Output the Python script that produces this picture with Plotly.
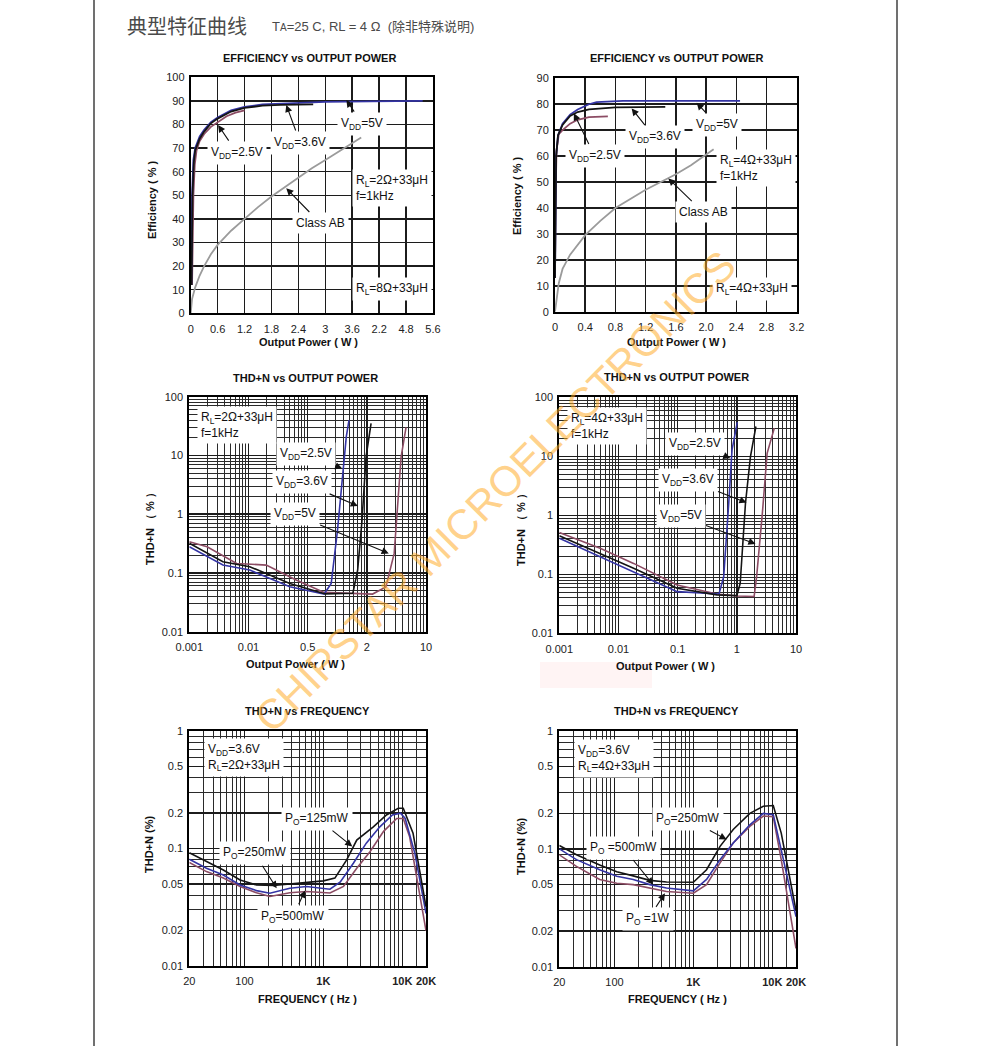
import math
import plotly.graph_objects as go

W, H = 991, 1046
FONT = "Liberation Sans, Arial, Helvetica, sans-serif"
CJK = "Liberation Sans, Noto Sans CJK SC, sans-serif"

BLUE = "#3434a4"
BLACK = "#141414"
BROWN = "#8c4c64"
GRAY = "#9b9b9b"
GRID = "#1c1c1c"

# ---------------- data: efficiency, RL = 2 ohm ----------------
eff2_vdd25_x = [0.03, 0.06, 0.09, 0.13, 0.2, 0.3, 0.45, 0.6, 0.8, 1.0, 1.2]
eff2_vdd25_y = [12, 50, 63, 69, 73, 76, 79, 81, 83.5, 85, 86]
eff2_vdd36_x = [0.02, 0.04, 0.07, 0.1, 0.2, 0.3, 0.45, 0.6, 0.9, 1.2, 1.6, 2.0, 2.73]
eff2_vdd36_y = [12, 50, 64, 69, 74, 77, 80.5, 82.5, 85.5, 87, 88, 88.3, 88.5]
eff2_vdd5_x = [0.015, 0.03, 0.06, 0.1, 0.2, 0.3, 0.45, 0.6, 0.9, 1.2, 1.6, 2.4, 3.0, 4.0, 5.17]
eff2_vdd5_y = [12, 50, 65, 70, 75, 77.8, 81, 83, 86, 87.5, 88.5, 89.3, 89.6, 89.8, 90.0]
eff2_ab_x = [0, 0.03, 0.1, 0.2, 0.3, 0.45, 0.6, 0.9, 1.2, 1.5, 1.8, 2.1, 2.4, 2.7, 3.0, 3.3, 3.6, 3.8]
eff2_ab_y = [0, 6, 11, 16, 20, 25, 29, 35, 40, 45, 49.5, 53.5, 57.5, 61.5, 65, 68.5, 72, 74.5]
eff2_xticks = [0, 0.6, 1.2, 1.8, 2.4, 3.0, 3.6, 4.2, 4.8, 5.4]
eff2_xlabels = ["0", "0.6", "1.2", "1.8", "2.4", "3", "3.6", "2.2", "4.8", "5.6"]
eff2_yticks = [0, 10, 20, 30, 40, 50, 60, 70, 80, 90, 100]

# ---------------- data: efficiency, RL = 4 ohm ----------------
eff4_vdd25_x = [0.0, 0.005, 0.02, 0.05, 0.1, 0.2, 0.3, 0.45, 0.7]
eff4_vdd25_y = [13, 40, 62, 68.5, 70, 72.5, 74, 75, 75.3]
eff4_vdd36_x = [0.0, 0.005, 0.015, 0.04, 0.1, 0.2, 0.3, 0.45, 0.8, 1.46]
eff4_vdd36_y = [13, 40, 60, 68, 72, 75.5, 77, 78, 78.8, 79.0]
eff4_vdd5_x = [0.0, 0.005, 0.015, 0.04, 0.1, 0.2, 0.3, 0.45, 0.55, 0.9, 1.5, 2.45]
eff4_vdd5_y = [13, 40, 60, 68, 72.5, 76, 78, 80, 80.8, 81.3, 81.3, 81.3]
eff4_ab_x = [0, 0.02, 0.05, 0.1, 0.2, 0.4, 0.6, 0.8, 1.0, 1.2, 1.4, 1.6, 1.8, 2.0, 2.1]
eff4_ab_y = [0, 5, 11, 16.5, 22, 29.5, 35, 40, 43.5, 47, 50, 53, 56.5, 60.5, 62.6]
eff4_xticks = [0, 0.4, 0.8, 1.2, 1.6, 2.0, 2.4, 2.8, 3.2]
eff4_xlabels = ["0", "0.4", "0.8", "1.2", "1.6", "2.0", "2.4", "2.8", "3.2"]
eff4_yticks = [0, 10, 20, 30, 40, 50, 60, 70, 80, 90]

# ---------------- data: THD+N vs output power, RL = 2 ohm ----------------
thd2_vdd25_x = [0.001, 0.0037, 0.0105, 0.05, 0.19, 0.25, 0.32, 0.40, 0.45, 0.50]
thd2_vdd25_y = [0.28, 0.137, 0.112, 0.058, 0.0437, 0.066, 0.54, 5.6, 20.9, 40]
thd2_vdd36_x = [0.001, 0.0037, 0.0105, 0.05, 0.2, 0.58, 0.70, 0.83, 0.97, 1.18]
thd2_vdd36_y = [0.32, 0.155, 0.128, 0.066, 0.044, 0.045, 0.112, 0.79, 9.5, 35]
thd2_vdd5_x = [0.001, 0.002, 0.0063, 0.02, 0.064, 0.19, 1.25, 2.1, 2.9, 3.8, 4.6]
thd2_vdd5_y = [0.34, 0.28, 0.145, 0.136, 0.076, 0.0467, 0.0437, 0.058, 0.215, 9.5, 30]
thdp_xticks = [0.001, 0.01, 0.1, 1, 10]
thd2_xlabels = ["0.001", "0.01", "0.5", "2", "10"]
thd4_xlabels = ["0.001", "0.01", "0.1", "1", "10"]
thdp_yticks = [0.01, 0.1, 1, 10, 100]
thdp_ylabels = ["0.01", "0.1", "1", "10", "100"]

# ---------------- data: THD+N vs output power, RL = 4 ohm ----------------
thd4_vdd25_x = [0.001, 0.0049, 0.018, 0.098, 0.5, 0.6, 0.73, 0.83, 1.02]
thd4_vdd25_y = [0.41, 0.2, 0.111, 0.0508, 0.0464, 0.091, 1.6, 12.8, 38]
thd4_vdd36_x = [0.001, 0.0049, 0.018, 0.098, 0.46, 1.0, 1.14, 1.4, 1.7, 2.1]
thd4_vdd36_y = [0.45, 0.227, 0.127, 0.058, 0.0448, 0.0436, 0.07, 1.6, 9.9, 32]
thd4_vdd5_x = [0.001, 0.0049, 0.018, 0.098, 0.46, 1.0, 1.96, 2.16, 2.7, 3.25, 4.3]
thd4_vdd5_y = [0.51, 0.276, 0.153, 0.066, 0.0464, 0.043, 0.042, 0.091, 1.08, 11.2, 30]

# ---------------- data: THD+N vs frequency, RL = 2 ohm ----------------
f2_125_x = [20, 33, 54, 88, 142, 232, 376, 611, 1000, 1400, 1976, 2650, 4300, 6300, 8900, 10300, 13700, 20000]
f2_125_y = [0.092, 0.077, 0.0656, 0.054, 0.0489, 0.0484, 0.05, 0.052, 0.053, 0.056, 0.08, 0.118, 0.153, 0.193, 0.22, 0.22, 0.135, 0.032]
f2_250_x = [20, 33, 54, 88, 142, 210, 376, 611, 1213, 1640, 2400, 3500, 5200, 7500, 9500, 10900, 14500, 20000]
f2_250_y = [0.081, 0.0678, 0.0595, 0.049, 0.0438, 0.0416, 0.0459, 0.0475, 0.045, 0.052, 0.075, 0.111, 0.153, 0.193, 0.2, 0.18, 0.09, 0.028]
f2_500_x = [20, 33, 54, 88, 142, 210, 376, 611, 1213, 1800, 2650, 3900, 5800, 8500, 10300, 12400, 20000]
f2_500_y = [0.076, 0.0636, 0.056, 0.0475, 0.042, 0.039, 0.042, 0.043, 0.0418, 0.0475, 0.068, 0.094, 0.14, 0.18, 0.18, 0.126, 0.02]

# ---------------- data: THD+N vs frequency, RL = 4 ohm ----------------
f4_x = [20, 33, 65, 107, 173, 281, 457, 1000, 1470, 2180, 3200, 5200, 7700, 10300, 13000, 20000]
f4_250_y = [0.107, 0.089, 0.073, 0.064, 0.059, 0.054, 0.0524, 0.052, 0.0665, 0.105, 0.146, 0.2, 0.23, 0.233, 0.136, 0.03]
f4_500_y = [0.1, 0.081, 0.0665, 0.0585, 0.055, 0.0497, 0.0465, 0.044, 0.055, 0.081, 0.112, 0.16, 0.2, 0.195, 0.098, 0.0266]
f4_1w_y = [0.089, 0.071, 0.055, 0.051, 0.0497, 0.0465, 0.0435, 0.042, 0.0497, 0.076, 0.112, 0.155, 0.19, 0.187, 0.081, 0.0143]

fr_xticks = [20, 100, 1000, 10000, 20000]
fr_xlabels = ["20", "100", "<b>1K</b>", "<b>10K</b>", "<b>20K</b>"]
fr_yticks = [0.01, 0.02, 0.05, 0.1, 0.2, 0.5, 1]
fr_ylabels = ["0.01", "0.02", "0.05", "0.1", "0.2", "0.5", "1"]

# ---------------- figure ----------------
fig = go.Figure()


def add(x, y, color, ax, width=1.8):
    fig.add_trace(go.Scatter(
        x=x, y=y, mode="lines", line=dict(color=color, width=width),
        xaxis="x" + ax, yaxis="y" + ax, showlegend=False, hoverinfo="skip"))


add(eff2_ab_x, eff2_ab_y, GRAY, "")
add(eff2_vdd25_x, eff2_vdd25_y, BROWN, "")
add(eff2_vdd5_x, eff2_vdd5_y, BLUE, "")
add(eff2_vdd36_x, eff2_vdd36_y, BLACK, "")

add(eff4_ab_x, eff4_ab_y, GRAY, "2")
add(eff4_vdd25_x, eff4_vdd25_y, BROWN, "2")
add(eff4_vdd5_x, eff4_vdd5_y, BLUE, "2")
add(eff4_vdd36_x, eff4_vdd36_y, BLACK, "2")

add(thd2_vdd5_x, thd2_vdd5_y, BROWN, "3", 1.6)
add(thd2_vdd25_x, thd2_vdd25_y, BLUE, "3", 1.6)
add(thd2_vdd36_x, thd2_vdd36_y, BLACK, "3", 1.6)

add(thd4_vdd5_x, thd4_vdd5_y, BROWN, "4", 1.6)
add(thd4_vdd25_x, thd4_vdd25_y, BLUE, "4", 1.6)
add(thd4_vdd36_x, thd4_vdd36_y, BLACK, "4", 1.6)

add(f2_500_x, f2_500_y, BROWN, "5", 1.6)
add(f2_250_x, f2_250_y, BLUE, "5", 1.6)
add(f2_125_x, f2_125_y, BLACK, "5", 1.6)

add(f4_x, f4_1w_y, BROWN, "6", 1.6)
add(f4_x, f4_500_y, BLUE, "6", 1.6)
add(f4_x, f4_250_y, BLACK, "6", 1.6)


def dom_x(a, b):
    return [a / W, b / W]


def dom_y(top, bottom):
    return [1 - bottom / H, 1 - top / H]


def base_axis(domain, anchor):
    return dict(domain=domain, anchor=anchor, showgrid=True, gridcolor=GRID, gridwidth=1.5,
                showline=True, linecolor="black", linewidth=2, mirror=True, ticks="",
                zeroline=False, tickmode="array", fixedrange=True, automargin=False,
                tickfont=dict(size=11, color="#222", family=FONT))


def minor_vals(decades, mults):
    return [m * 10 ** d for d in decades for m in mults]


layout = dict(width=W, height=H, margin=dict(l=0, r=0, t=0, b=0, pad=0, autoexpand=False),
              autosize=False, template="none",
              paper_bgcolor="white", plot_bgcolor="white", showlegend=False,
              font=dict(family=FONT, color="#222"))

# panel 1
ax = base_axis(dom_x(190.7, 433), "y")
ax.update(range=[0, 5.4], tickvals=eff2_xticks, ticktext=eff2_xlabels, ticklabelstandoff=4)
layout["xaxis"] = ax
ay = base_axis(dom_y(77.3, 313.3), "x")
ay.update(range=[0, 100], tickvals=eff2_yticks, ticktext=[str(v) for v in eff2_yticks], ticklabelstandoff=2)
layout["yaxis"] = ay

# panel 2
ax = base_axis(dom_x(555, 796.7), "y2")
ax.update(range=[0, 3.2], tickvals=eff4_xticks, ticktext=eff4_xlabels, ticklabelstandoff=4)
layout["xaxis2"] = ax
ay = base_axis(dom_y(78.3, 311.7), "x2")
ay.update(range=[0, 90], tickvals=eff4_yticks, ticktext=[str(v) for v in eff4_yticks], ticklabelstandoff=2)
layout["yaxis2"] = ay

minor_p_x = minor_vals([-3, -2, -1, 0], [2, 3, 4, 5, 6, 7, 8, 9])
minor_p_y = minor_vals([-2, -1, 0, 1], [2, 3, 4, 5, 6, 7, 8, 9])
minor_f_x = minor_vals([1, 2, 3], [3, 4, 5, 6, 7, 8, 9]) + [2000, 200, 15000]
minor_f_y = minor_vals([-2, -1], [3, 4, 6, 7, 8, 9])
MINOR = dict(showgrid=True, gridcolor="#2a2a2a", gridwidth=1, ticks="", tickmode="array")

# panel 3 & 4
for k, xl, (xa, xb), (yt, yb) in [("3", thd2_xlabels, (189.3, 426), (396.7, 631.7)),
                                   ("4", thd4_xlabels, (559.3, 796), (397.3, 633.3))]:
    ax = base_axis(dom_x(xa, xb), "y" + k)
    ax.update(type="log", range=[-3, 1], tickvals=thdp_xticks, ticktext=xl, ticklabelstandoff=4,
              minor=dict(MINOR, tickvals=minor_p_x))
    layout["xaxis" + k] = ax
    ay = base_axis(dom_y(yt, yb), "x" + k)
    ay.update(type="log", range=[-2, 2], tickvals=thdp_yticks, ticktext=thdp_ylabels, ticklabelstandoff=2,
              minor=dict(MINOR, tickvals=minor_p_y))
    layout["yaxis" + k] = ay

# panel 5 & 6
for k, (xa, xb), (yt, yb) in [("5", (189.3, 426), (731, 966)),
                              ("6", (559.3, 796), (731, 966.7))]:
    ax = base_axis(dom_x(xa, xb), "y" + k)
    ax.update(type="log", range=[math.log10(20), math.log10(20000)], tickvals=fr_xticks,
              ticktext=fr_xlabels, ticklabelstandoff=4, minor=dict(MINOR, tickvals=minor_f_x))
    layout["xaxis" + k] = ax
    ay = base_axis(dom_y(yt, yb), "x" + k)
    ay.update(type="log", range=[-2, 0], tickvals=fr_yticks, ticktext=fr_ylabels, ticklabelstandoff=2,
              minor=dict(MINOR, tickvals=minor_f_y))
    layout["yaxis" + k] = ay

fig.update_layout(**layout)

ann = []


def ptxt(text, x, y, size=12, anchor="center", bold=False, color="#111", bg=None, family=FONT,
         angle=0, align="left"):
    d = dict(text=("<b>%s</b>" % text) if bold else text, x=x / W, y=1 - y / H,
             xref="paper", yref="paper", xanchor=anchor, yanchor="middle", showarrow=False,
             font=dict(size=size, color=color, family=family), textangle=angle, align=align)
    if bg:
        d.update(bgcolor=bg, borderpad=3)
    return d


# header
ann.append(ptxt("典型特征曲线", 125, 25, size=20, anchor="left", color="#4a4a4a",
                family="Noto Sans CJK SC, sans-serif"))
ann.append(ptxt("T<span style='font-size:10px'>A</span>=25 C, RL = 4 Ω  (除非特殊说明)", 270, 27,
                size=13, anchor="left", color="#4a4a4a", family=CJK))

# titles
for t, x, y in [("EFFICIENCY vs OUTPUT POWER", 309, 58), ("EFFICIENCY vs OUTPUT POWER", 676, 58),
                ("THD+N vs OUTPUT POWER", 305, 378), ("THD+N vs OUTPUT POWER", 676, 377),
                ("THD+N vs FREQUENCY", 307, 711), ("THD+N vs FREQUENCY", 676, 711)]:
    ann.append(ptxt(t, x, y, size=11, bold=True))

# axis titles
for t, x, y, a in [("Output Power ( W )", 308, 342, 0), ("Output Power ( W )", 676, 342, 0),
                   ("Output Power ( W )", 295, 664, 0), ("Output Power ( W )", 665, 666, 0),
                   ("FREQUENCY ( Hz )", 307, 999, 0), ("FREQUENCY ( Hz )", 677, 999, 0),
                   ("Efficiency ( % )", 152, 200, -90), ("Efficiency ( % )", 517, 196, -90),
                   ("THD+N （ % ）", 150, 526, -90), ("THD+N （ % ）", 521, 527, -90),
                   ("THD+N (%)", 149, 845, -90), ("THD+N (%)", 521, 847, -90)]:
    ann.append(ptxt(t, x, y, size=11, bold=True, angle=a))

VDD = "V<sub>DD</sub>"
RL = "R<sub>L</sub>"
PO = "P<sub>O</sub>"

# boxed condition notes (no arrow)
notes = [
    (RL + "=2Ω+33μH<br>f=1kHz", 352, 188), (RL + "=8Ω+33μH", 352, 289),
    (RL + "=4Ω+33μH<br>f=1kHz", 716, 168), (RL + "=4Ω+33μH", 712, 289),
    (RL + "=2Ω+33μH<br>f=1kHz", 197, 425), (RL + "=4Ω+33μH<br>f=1kHz", 567, 426),
    (VDD + "=3.6V<br>" + RL + "=2Ω+33μH", 204, 757), (VDD + "=3.6V<br>" + RL + "=4Ω+33μH", 574, 758),
]
for t, x, y in notes:
    ann.append(ptxt(t, x, y, size=12, anchor="left", bg="white", color="#111"))

# curve labels with arrows: (text, axis, head x, head y, text offset dx px, dy px)
callouts = [
    (VDD + "=2.5V", "", 0.61, 79.8, 19, 28), (VDD + "=3.6V", "", 2.13, 88.3, 14, 38),
    (VDD + "=5V", "", 3.47, 90.4, 16, 24), ("Class AB", "", 2.13, 53, 34, 35),
    (VDD + "=2.5V", "2", 0.25, 76.5, 21, 43), (VDD + "=3.6V", "2", 1.015, 78.4, 23, 29),
    (VDD + "=5V", "2", 1.876, 80.6, 20, 22), ("Class AB", "2", 1.5, 51.4, 35, 34),
    (VDD + "=2.5V", "3", 0.384, 6.0, -36, -14), (VDD + "=3.6V", "3", 0.705, 1.38, -56, -24),
    (VDD + "=5V", "3", 2.35, 0.215, -94, -39),
    (VDD + "=2.5V", "4", 0.78, 9.25, -35, -14), (VDD + "=3.6V", "4", 1.46, 1.64, -59, -23),
    (VDD + "=5V", "4", 2.07, 0.327, -75, -28),
    (PO + "=125mW", "5", 2330, 0.104, -35, -28), (PO + "=250mW", "5", 256, 0.0458, -22, -35),
    (PO + "=500mW", "5", 585, 0.0438, -12, 26),
    (PO + "=250mW", "6", 2640, 0.12, -39, -21), (PO + " =500mW", "6", 310, 0.0496, -30, -37),
    (PO + " =1W", "6", 437, 0.042, -17, 26),
]
LOG_AXES = {"3", "4", "5", "6"}
for t, k, hx, hy, dx, dy in callouts:
    if k in LOG_AXES:
        hx, hy = math.log10(hx), math.log10(hy)
    ann.append(dict(x=hx, y=hy, xref="x" + k, yref="y" + k, text=t, showarrow=True,
                    ax=dx, ay=dy, arrowhead=2, arrowsize=1.3, arrowwidth=1.1, arrowcolor="#111",
                    standoff=0, startstandoff=1, bgcolor="white", borderpad=3,
                    xanchor="center", yanchor="middle",
                    font=dict(size=12, color="#111", family=FONT)))

# watermark
ann.append(dict(text="CHIPSTAR MICROELECTRONICS", x=495 / W, y=1 - 491 / H, xref="paper", yref="paper",
                showarrow=False, textangle=-45, xanchor="center", yanchor="middle",
                font=dict(size=42, color="rgba(255,172,40,0.55)", family=FONT)))

fig.update_layout(annotations=ann)

shapes = [
    dict(type="line", xref="paper", yref="paper", x0=94 / W, x1=94 / W, y0=0, y1=1,
         line=dict(color="#707070", width=2)),
    dict(type="line", xref="paper", yref="paper", x0=897 / W, x1=897 / W, y0=0, y1=1,
         line=dict(color="#707070", width=2)),
    dict(type="rect", xref="paper", yref="paper", x0=540 / W, x1=652 / W, y0=1 - 688 / H, y1=1 - 662 / H,
         fillcolor="#fff4f4", line=dict(width=0), layer="below"),
]
fig.update_layout(shapes=shapes)

fig.write_html("out.html", config={"displayModeBar": False, "staticPlot": True},
               post_script="document.body.style.margin='0';document.body.style.overflow='hidden';")
